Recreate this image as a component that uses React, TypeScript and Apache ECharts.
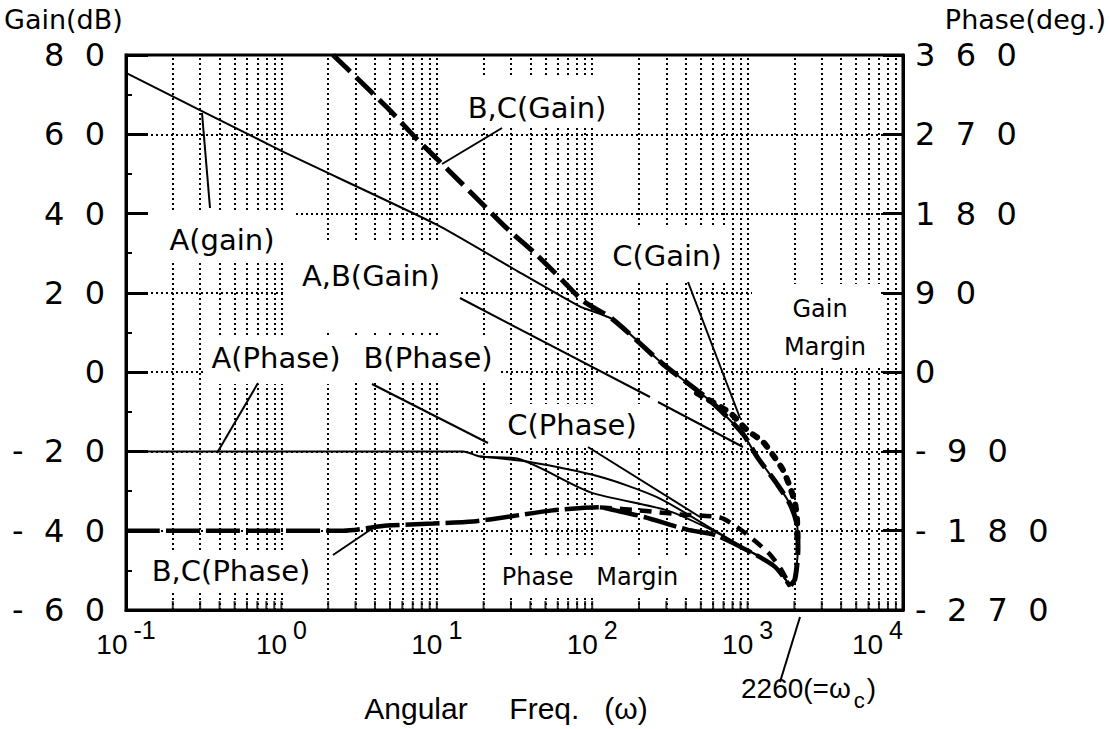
import React, { useEffect, useRef } from "react";
import * as echarts from "echarts";

// ---------- axes ----------
const freqRange = [0.1, 10000];
const gainTicks = [-60, -40, -20, 0, 20, 40, 60, 80];
const phaseTicks = [-270, -180, -90, 0, 90, 180, 270, 360];
const decadeStarts = [0.1, 1, 10, 100, 1000];
const decadeMultipliers = [2, 3, 4, 5, 6, 7, 8, 9, 10];

// ---------- curves  [angular freq, value] ----------
const aGain: [number, number][] = [
  [0.1, 75.5], [1, 55.8], [10, 37.2], [33, 25.5], [83, 16.6], [136, 13.3], [286, 2.0],
  [573, -7.2], [934, -15.6], [1148, -21.3], [1545, -28.2], [1874, -33.3], [2080, -38.5],
  [2110, -44.4], [2018, -52.2], [1874, -54.0],
];
const bcGain: [number, number][] = [
  [2.15, 80], [4.79, 66.75], [7.46, 58.75], [12.2, 50.5], [19, 43], [28.3, 36.25], [44.2, 29.5],
  [64.9, 23], [87.3, 18], [136, 13.3], [286, 2.0], [573, -7.2], [934, -15.6], [1148, -21.3],
  [1545, -28.2], [1874, -33.3], [2080, -38.5], [2110, -44.4], [2018, -52.2], [1874, -54.0],
];
const cGain: [number, number][] = [
  [472, -5.3], [771, -10.3], [991, -14.6], [1256, -17.6], [1456, -20.9], [1690, -24.7],
  [1875, -29.0], [2018, -33.0], [2080, -37.3], [2090, -42.4],
];
const aPhase: [number, number][] = [
  [0.1, -90], [14.8, -90], [19, -95.8], [32.8, -98.1], [96.8, -136.2], [303, -156.9],
  [599, -180], [1036, -203.4], [1500, -220], [1874, -243],
];
const cPhaseThin: [number, number][] = [
  [19, -95.8], [38, -101.5], [112, -118.8], [261, -141.9], [617, -180], [1036, -203.4],
  [1500, -220], [1874, -243],
];
const bcPhase: [number, number][] = [
  [0.1, -180], [2.5, -180], [4.8, -174.2], [9.47, -171.9], [17.1, -169.6], [29.6, -163.8],
  [56, -156.9], [112, -153.5], [140, -156.9], [216, -164.4], [409, -178.8], [620, -185],
  [1036, -204], [1500, -221], [1874, -243],
];
const cPhaseDash: [number, number][] = [
  [112, -153.5], [203, -157], [367, -161.5], [664, -165], [866, -176.5], [1116, -191.7],
  [1394, -207], [1665, -225.6], [1874, -243],
];

// ---------- annotations ----------
const labels = [
  { text: "B,C(Gain)", x: 537, y: 108, box: [458, 78, 160, 50] },
  { text: "A(gain)", x: 222, y: 240, box: [150, 212, 143, 51] },
  { text: "A,B(Gain)", x: 371, y: 276, box: [286, 243, 172, 90] },
  { text: "C(Gain)", x: 667, y: 256, box: [605, 226, 125, 54] },
  { text: "A(Phase)", x: 276, y: 358, box: [203, 336, 148, 48] },
  { text: "B(Phase)", x: 428, y: 358, box: [351, 336, 148, 46] },
  { text: "C(Phase)", x: 572, y: 425, box: [498, 404, 148, 42] },
  { text: "B,C(Phase)", x: 231, y: 571, box: [144, 550, 176, 42] },
];
const smallLabels = [
  { text: "Gain", x: 820, y: 309 },
  { text: "Margin", x: 825, y: 347 },
  { text: "Phase\u00A0\u00A0\u00A0Margin", x: 590, y: 577 },
];
const smallBoxes = [
  [752, 284, 128, 84],
  [488, 558, 202, 38],
];
const leaders = [
  [210, 208, 202, 113],
  [502, 128, 442, 164],
  [460, 298, 650, 397],
  [658, 402, 743, 447],
  [688, 282, 740, 418],
  [217, 453, 258, 383],
  [372, 384, 488, 443],
  [588, 447, 700, 517],
  [333, 555, 373, 528],
  [800, 617, 780, 682],
];

const gridFreqs: number[] = [];
decadeStarts.forEach((d) => decadeMultipliers.forEach((m) => gridFreqs.push(+(d * m).toPrecision(6))));
const innerGridFreqs = gridFreqs.filter((v) => v < freqRange[1]);

const spaced = (v: number) => String(v).split("").join("\u00A0\u00A0");

const lineSeries = (
  name: string,
  data: [number, number][],
  width: number,
  type: any,
  yAxisIndex: number,
  cap: string = "butt",
  smooth: number = 0.25
) => ({
  type: "line",
  name,
  data,
  yAxisIndex,
  showSymbol: false,
  symbol: "none",
  smooth,
  silent: true,
  z: 2,
  lineStyle: { color: "#000", width, type, cap },
});

function textEl(text: string, x: number, y: number, font: string, align: string) {
  return {
    type: "text",
    z: 10,
    x,
    y,
    style: {
      text,
      font,
      fill: "#000",
      align,
      verticalAlign: "middle",
      textAlign: align,
      textVerticalAlign: "middle",
    },
  };
}

function buildOption() {
  const graphics: any[] = [];
  labels.forEach((l) => {
    graphics.push({
      type: "rect",
      silent: true,
      z: 1,
      shape: { x: l.box[0], y: l.box[1], width: l.box[2], height: l.box[3] },
      style: { fill: "#fff" },
    });
  });
  smallBoxes.forEach((b) => {
    graphics.push({
      type: "rect",
      silent: true,
      z: 1,
      shape: { x: b[0], y: b[1], width: b[2], height: b[3] },
      style: { fill: "#fff" },
    });
  });
  labels.forEach((l) => graphics.push(textEl(l.text, l.x, l.y, '29px "DejaVu Sans"', "center")));
  smallLabels.forEach((l) => graphics.push(textEl(l.text, l.x, l.y, '24px "DejaVu Sans"', "center")));
  leaders.forEach((s) => {
    graphics.push({
      type: "line",
      z: 9,
      silent: true,
      shape: { x1: s[0], y1: s[1], x2: s[2], y2: s[3] },
      style: { stroke: "#000", lineWidth: 2 },
    });
  });
  graphics.push(textEl("Gain(dB)", 4, 19, '27px "DejaVu Sans"', "left"));
  graphics.push(textEl("Phase(deg.)", 1106, 19, '27px "DejaVu Sans"', "right"));
  graphics.push(
    textEl(
      "Angular\u00A0\u00A0\u00A0\u00A0\u00A0Freq.\u00A0\u00A0\u00A0(\u03C9)",
      506,
      708,
      '30px "Liberation Sans"',
      "center"
    )
  );
  graphics.push({
    type: "text",
    z: 10,
    x: 741,
    y: 674,
    style: {
      text: "{n|2260(=\u03C9}{c|c}{n|)}",
      fill: "#000",
      align: "left",
      verticalAlign: "top",
      textAlign: "left",
      textVerticalAlign: "top",
      rich: {
        n: { fontSize: 28, fontFamily: "Liberation Sans", fill: "#000", verticalAlign: "top", lineHeight: 32 },
        c: { fontSize: 22, fontFamily: "Liberation Sans", fill: "#000", verticalAlign: "top", lineHeight: 24, padding: [15, 2, 0, 3] },
      },
    },
  });

  const dotted = { color: "#000", type: [2, 3], width: 2 };

  return {
    animation: false,
    backgroundColor: "#fff",
    grid: {
      left: 126,
      top: 55,
      width: 777,
      height: 555,
      show: true,
      borderColor: "#000",
      borderWidth: 3,
      backgroundColor: "transparent",
      containLabel: false,
    },
    xAxis: {
      type: "log",
      logBase: 10,
      min: freqRange[0],
      max: freqRange[1],
      splitNumber: 5,
      axisLine: { show: true, onZero: false, lineStyle: { color: "#000", width: 3 } },
      axisTick: { show: false },
      splitLine: { show: false },
      axisLabel: {
        margin: 18,
        color: "#000",
        alignMaxLabel: "right",
        formatter: (v: number) => `{b|10}{s|${Math.round(Math.log10(v))}}`,
        rich: {
          b: { fontSize: 28, fontFamily: "Liberation Sans", color: "#000", verticalAlign: "bottom", lineHeight: 30 },
          s: { fontSize: 25, fontFamily: "Liberation Sans", color: "#000", verticalAlign: "bottom", lineHeight: 25, padding: [0, 0, 16, 6] },
        },
      },
    },
    yAxis: [
      {
        type: "value",
        position: "left",
        min: gainTicks[0],
        max: gainTicks[gainTicks.length - 1],
        interval: 20,
        axisLine: { show: true, onZero: false, lineStyle: { color: "#000", width: 3 } },
        axisTick: { show: true, inside: true, length: 22, lineStyle: { color: "#000", width: 3 } },
        minorTick: { show: true, splitNumber: 2, length: 6, lineStyle: { color: "#000", width: 2 } },
        axisLabel: { margin: 21, color: "#000", fontSize: 32, fontFamily: "DejaVu Sans", formatter: spaced },
        splitLine: { show: true, lineStyle: dotted },
      },
      {
        type: "value",
        position: "right",
        min: phaseTicks[0],
        max: phaseTicks[phaseTicks.length - 1],
        interval: 90,
        axisLine: { show: true, onZero: false, lineStyle: { color: "#000", width: 3 } },
        axisTick: { show: true, inside: true, length: 20, lineStyle: { color: "#000", width: 3 } },
        axisLabel: { margin: 12, color: "#000", fontSize: 32, fontFamily: "DejaVu Sans", formatter: spaced },
        splitLine: { show: false },
      },
    ],
    graphic: graphics,
    series: [
      {
        type: "line",
        name: "grid",
        data: [[1, 0]],
        symbol: "none",
        silent: true,
        lineStyle: { opacity: 0 },
        markLine: {
          silent: true,
          z: 0,
          symbol: ["none", "none"],
          label: { show: false },
          lineStyle: dotted,
          data: innerGridFreqs.map((v) => ({ xAxis: v })),
        },
      },
      {
        type: "scatter",
        name: "ticks",
        data: innerGridFreqs.map((v) => [v, gainTicks[0]]),
        symbol: "rect",
        symbolSize: [2, 9],
        symbolOffset: [0, -4.5],
        itemStyle: { color: "#000" },
        silent: true,
        clip: false,
        z: 3,
      },
      lineSeries("A gain", aGain, 2, "solid", 0, "butt", 0.15),
      lineSeries("B,C gain", bcGain, 5, [24, 8], 0),
      lineSeries("C gain", cGain, 6, [5, 9], 0, "round"),
      lineSeries("A phase", aPhase, 2, "solid", 1),
      lineSeries("C phase thin", cPhaseThin, 2, "solid", 1),
      lineSeries("B,C phase", bcPhase, 4.5, [34, 6], 1),
      lineSeries("C phase", cPhaseDash, 4.5, [12, 8], 1),
    ],
  };
}

export default function App() {
  const ref = useRef<HTMLDivElement>(null);
  useEffect(() => {
    if (!ref.current) return;
    const chart = echarts.init(ref.current, null, { renderer: "svg" });
    chart.setOption(buildOption() as any);
    return () => chart.dispose();
  }, []);
  return (
    <div
      ref={ref}
      style={{ position: "fixed", left: 0, top: 0, width: 1110, height: 729, background: "#fff" }}
    />
  );
}
